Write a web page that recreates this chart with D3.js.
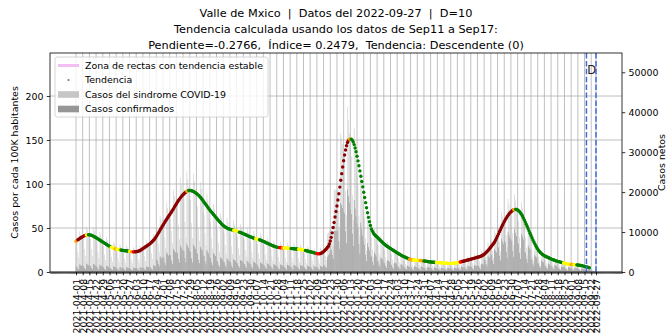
<!DOCTYPE html>
<html>
<head>
<meta charset="utf-8">
<script src="https://cdn.jsdelivr.net/npm/d3@7"></script>
<style>
  body { margin: 0; background: #fff; }
  svg { display: block; font-family: "DejaVu Sans", sans-serif; }
</style>
</head>
<body>
<svg id="chart" width="669" height="334"></svg>
<script>
'use strict';

let titleLines = [
    'Valle de Mxico  |  Datos del 2022-09-27  |  D=10',
    'Tendencia calculada usando los datos de Sep11 a Sep17:',
    'Pendiente=-0.2766,  Índice= 0.2479,  Tendencia: Descendente (0)'
];
let startDate = '2021-04-01';
let cutoffDate = '2022-09-17';
let lastDate = '2022-09-27';
let leftTicks = [0, 50, 100, 150, 200];
let rightTicks = [0, 10000, 20000, 30000, 40000, 50000];
let legendLabels = ['Zona de rectas con tendencia estable', 'Tendencia',
    'Casos del sindrome COVID-19', 'Casos confirmados'];

// casos por cada 100K habitantes, un valor diario desde 2021-04-01
let trendPer100k = [
    35.0, 35.8, 36.6, 37.4, 38.2, 38.9, 39.6, 40.2, 40.8, 41.3, 41.7, 42.0, 42.2, 42.3,
    42.2, 42.0, 41.7, 41.3, 40.8, 40.2, 39.6, 39.0, 38.3, 37.6, 36.9, 36.2,
    35.5, 34.8, 34.1, 33.4, 32.7, 32.0, 31.3, 30.6, 30.0, 29.4, 28.8, 28.2, 27.6, 27.1,
    26.7, 26.3, 26.0, 25.8, 25.6, 25.4, 25.2, 25.0, 24.8, 24.6, 24.4, 24.2, 24.1, 24.0,
    23.8, 23.6, 23.4, 23.2, 23.0, 22.9, 22.9, 22.9, 23.0, 23.1,
    23.3, 23.6, 24.0, 24.5, 25.1, 25.8, 26.6,
    27.4, 28.1, 28.8, 29.5, 30.3, 31.1, 31.9, 32.8, 33.8, 34.9, 36.0,
    37.3, 38.8, 40.4, 42.1, 43.9, 45.8, 47.8,
    49.6, 51.4, 53.2, 55.0, 56.8, 58.6, 60.3, 62.0, 63.6, 65.2,
    66.9, 68.6, 70.3, 72.0, 73.8, 75.6, 77.4, 79.2, 80.9, 82.5, 84.0,
    85.4, 86.7, 87.9, 89.0, 90.0, 90.9, 91.7, 92.3,
    92.6, 92.7, 92.6, 92.3, 91.9, 91.4, 90.8, 90.1, 89.3, 88.4, 87.4, 86.3, 85.1,
    83.8, 82.4, 80.9, 79.4, 77.9, 76.4, 74.9, 73.4, 71.9, 70.5, 69.1, 67.8, 66.5, 65.2,
    63.9, 62.6, 61.3, 60.0, 58.7, 57.4, 56.2, 55.0, 53.9, 52.9, 52.0, 51.2, 50.5, 49.9,
    49.4, 49.0, 48.6, 48.3, 48.0, 47.7, 47.4, 47.1, 46.8, 46.5, 46.1, 45.7, 45.3, 44.9,
    44.5, 44.1, 43.6, 43.1, 42.6, 42.1, 41.6, 41.1, 40.6, 40.1,
    39.7, 39.3, 38.9, 38.5, 38.1, 37.8, 37.5, 37.2, 36.9, 36.6,
    36.2, 35.8, 35.3, 34.8, 34.3, 33.8, 33.3, 32.8, 32.3,
    31.8, 31.3, 30.8, 30.3, 29.8, 29.4, 29.0, 28.6, 28.3,
    28.0, 27.8, 27.7, 27.6, 27.5, 27.4, 27.3, 27.3, 27.2, 27.2, 27.1, 27.0,
    26.9, 26.8, 26.7, 26.6, 26.5, 26.4, 26.3, 26.2, 26.1, 26.0, 25.9, 25.8,
    25.6, 25.4, 25.2, 25.0, 24.8, 24.5, 24.2, 23.9, 23.6, 23.3, 23.0,
    22.7, 22.4, 22.1, 21.8, 21.5, 21.2, 21.0, 20.8, 20.7, 20.8,
    21.1, 21.6, 22.3, 23.2, 24.2, 25.3, 26.5, 27.8, 29.2,
    31.8, 35.2, 39.4, 44.5, 50.5,
    56.3, 62.5, 68.8, 75.0, 81.8, 88.9, 96.5,
    104.2, 111.8, 119.3, 126.5, 133.0, 138.7, 143.5, 147.2, 149.7, 151.0, 151.3,
    151.0, 149.9, 147.8, 144.8, 141.0, 136.6, 131.6, 126.3, 120.7, 114.9, 108.9, 102.9,
    96.8, 90.7, 84.7, 78.8, 73.0, 67.4, 62.1, 57.2, 52.8, 49.0,
    46.6, 44.6, 43.0, 41.7, 40.6, 39.7,
    38.6, 37.5, 36.4, 35.3, 34.3, 33.3, 32.3, 31.3, 30.4, 29.5,
    28.8, 28.1, 27.4, 26.7, 26.0, 25.3, 24.6, 23.9, 23.2, 22.5, 21.8, 21.1,
    20.4, 19.8, 19.2, 18.6, 18.0, 17.5, 17.0, 16.5, 16.0, 15.5, 15.0, 14.5,
    14.2, 14.0, 13.8, 13.7, 13.6, 13.5, 13.4, 13.3, 13.2, 13.1,
    13.0, 12.9, 12.8, 12.7, 12.6, 12.5, 12.3, 12.1, 11.9, 11.7,
    11.5, 11.4, 11.3, 11.2, 11.1, 11.0, 10.9, 10.8, 10.7, 10.6, 10.6, 10.5,
    10.4, 10.3, 10.2, 10.1, 10.0, 10.0, 9.9, 9.9, 9.8, 9.8, 9.8,
    9.8, 9.8, 9.9, 10.0, 10.1, 10.3, 10.5, 10.7, 11.0, 11.3,
    11.6, 11.9, 12.2, 12.5, 12.8, 13.1, 13.4, 13.7, 14.0, 14.3, 14.6,
    14.9, 15.2, 15.5, 15.8, 16.1, 16.4, 16.7, 17.0, 17.3, 17.6,
    18.1, 18.7, 19.4, 20.2, 21.1, 22.1, 23.2, 24.4, 25.7, 27.0, 28.4, 29.8, 31.2, 32.6,
    34.4, 36.4, 38.6, 40.9, 43.3, 45.7, 48.1, 50.5, 52.8, 55.0,
    57.1, 59.1, 61.0, 62.8, 64.4, 65.9, 67.2, 68.3, 69.3, 70.1, 70.7, 71.1,
    71.2, 71.0, 70.5, 69.7, 68.6, 67.2, 65.5, 63.6, 61.5, 59.2, 56.8, 54.3, 51.7, 49.1, 46.5, 43.9,
    41.4, 38.9, 36.5, 34.2, 32.0, 29.9, 27.9, 26.1, 24.5, 23.1, 21.9, 20.9, 20.0, 19.2, 18.5, 17.9, 17.4,
    16.9, 16.4, 15.9, 15.4, 14.9, 14.4, 14.0, 13.6, 13.2, 12.8, 12.4,
    12.1, 11.8, 11.5, 11.2, 10.9, 10.6, 10.3, 10.0, 9.7, 9.4,
    9.2, 9.0, 8.9, 8.8, 8.7, 8.6, 8.5, 8.4, 8.3, 8.2, 8.1, 8.0, 7.8, 7.6, 7.4, 7.2, 7.0,
    6.7, 6.4, 6.1, 5.8, 5.5, 5.2, 4.9
];

// [primer dia, color] de cada tramo de la tendencia
let trendColors = [
    [0, 'orange'], [2, 'darkred'], [10, 'red'], [11, 'yellow'], [13, 'green'],
    [37, 'yellow'], [41, 'orange'], [43, 'yellow'], [47, 'green'],
    [56, 'yellow'], [58, 'orange'], [60, 'red'], [62, 'darkred'],
    [116, 'orange'], [118, 'green'],
    [165, 'yellow'], [171, 'green'], [188, 'yellow'], [192, 'green'],
    [213, 'red'], [216, 'orange'], [218, 'yellow'], [225, 'green'],
    [233, 'yellow'], [240, 'green'],
    [252, 'red'], [256, 'darkred'], [286, 'orange'], [288, 'green'],
    [349, 'orange'], [353, 'yellow'], [360, 'orange'], [364, 'green'],
    [377, 'yellow'], [402, 'red'], [405, 'darkred'],
    [458, 'orange'], [460, 'green'],
    [510, 'yellow'], [518, 'orange'], [521, 'yellow'], [524, 'green']
];

// casos diarios en cientos, desde 2021-04-01 (jueves)
let sindromeHundreds = [
    79, 75, 51, 36, 103, 95, 87,   88, 84, 57, 40, 114, 106, 97,
    87, 83, 57, 39, 113, 104, 96,  77, 73, 50, 35, 100, 92, 85,
    67, 64, 44, 30, 87, 80, 74,    58, 55, 38, 26, 75, 70, 64,
    53, 50, 34, 24, 69, 64, 58,    51, 48, 33, 23, 66, 61, 56,
    48, 46, 31, 22, 62, 58, 53,    50, 48, 33, 23, 65, 60, 55,
    60, 57, 39, 27, 78, 72, 66,    73, 69, 47, 33, 95, 88, 80,
    108, 103, 70, 49, 140, 130, 119,   134, 127, 87, 60, 174, 161, 147,
    159, 151, 103, 72, 207, 191, 175,  182, 173, 118, 82, 237, 218, 200,
    194, 184, 126, 87, 252, 233, 213,  189, 180, 123, 85, 246, 227, 208,
    173, 164, 112, 78, 225, 208, 190,  151, 143, 98, 68, 196, 181, 166,
    131, 124, 85, 59, 170, 157, 144,   113, 107, 73, 51, 147, 136, 124,
    103, 98, 67, 46, 134, 124, 113,    99, 94, 64, 45, 129, 119, 109,
    93, 88, 60, 42, 121, 112, 102,     85, 81, 55, 38, 111, 102, 94,
    79, 75, 51, 36, 103, 95, 87,   74, 70, 48, 33, 96, 89, 81,
    67, 64, 44, 30, 87, 80, 74,    60, 57, 39, 27, 78, 72, 66,
    58, 55, 38, 26, 75, 70, 64,    56, 53, 36, 25, 73, 67, 62,
    55, 52, 36, 25, 72, 66, 61,    53, 50, 34, 24, 69, 64, 58,
    49, 47, 32, 22, 64, 59, 54,    45, 43, 29, 20, 59, 54, 50,
    47, 45, 31, 21, 61, 56, 52,    56, 55, 40, 30, 96, 99, 103,
    106, 112, 85, 65, 205, 206, 206,   203, 208, 153, 113, 346, 335, 320,
    301, 294, 204, 143, 413, 380, 347, 310, 289, 192, 129, 359, 318, 278,
    241, 218, 140, 91, 247, 214, 182,  153, 135, 85, 54, 144, 124, 108,
    94, 86, 57, 38, 108, 97, 87,   70, 67, 46, 32, 91, 84, 77,
    58, 55, 38, 26, 75, 70, 64,    47, 45, 31, 21, 61, 56, 52,
    38, 36, 25, 17, 49, 46, 42,    30, 29, 20, 14, 39, 36, 33,
    28, 27, 18, 13, 36, 34, 31,    27, 26, 18, 12, 35, 32, 30,
    25, 24, 16, 11, 33, 30, 28,    23, 22, 15, 10, 30, 28, 25,
    21, 20, 14, 9, 27, 25, 23,     21, 20, 14, 9, 27, 25, 23,
    22, 20, 14, 10, 28, 26, 23,    26, 25, 17, 12, 34, 31, 29,
    30, 29, 20, 14, 39, 36, 33,    34, 32, 22, 15, 44, 41, 37,
    41, 39, 27, 18, 53, 49, 45,    57, 54, 37, 26, 74, 68, 63,
    81, 77, 53, 36, 105, 97, 89,   116, 110, 75, 52, 151, 139, 128,
    141, 134, 92, 63, 183, 169, 155,   149, 142, 97, 67, 194, 179, 164,
    134, 127, 87, 60, 174, 161, 147,   92, 87, 60, 41, 120, 110, 101,
    59, 56, 38, 27, 77, 71, 65,    40, 38, 26, 18, 52, 48, 44,
    32, 30, 21, 14, 42, 38, 35,    27, 26, 18, 12, 35, 32, 30,
    22, 21, 14, 10, 29, 26, 24,    18, 17, 12, 8, 23, 22, 20,
    17, 16, 11, 8, 22, 20, 19,     14, 13, 9, 6, 18, 17, 15,
    11, 10, 7, 5, 13, 11, 9,       8, 6, 3, 2, 4, 1
];

let confirmedHundreds = [
    14, 13, 9, 6, 19, 17, 16,      16, 15, 10, 7, 21, 19, 17,
    16, 15, 10, 7, 20, 19, 17,     14, 13, 9, 6, 18, 17, 15,
    12, 12, 8, 5, 16, 14, 13,      10, 10, 7, 5, 14, 13, 12,
    10, 9, 6, 4, 12, 12, 10,       9, 9, 6, 4, 12, 11, 10,
    9, 8, 6, 4, 11, 10, 10,        9, 9, 6, 4, 12, 11, 10,
    11, 10, 7, 5, 14, 13, 12,      13, 12, 8, 6, 17, 16, 14,
    30, 29, 20, 14, 39, 36, 33,    38, 36, 24, 17, 49, 45, 41,
    45, 42, 29, 20, 58, 53, 49,    51, 48, 33, 23, 66, 61, 56,
    54, 52, 35, 24, 71, 65, 60,    53, 50, 34, 24, 69, 64, 58,
    48, 46, 31, 22, 63, 58, 53,    42, 40, 27, 19, 55, 51, 46,
    37, 35, 24, 17, 48, 44, 40,    28, 27, 18, 13, 37, 34, 31,
    26, 25, 17, 12, 34, 31, 28,    25, 24, 16, 11, 32, 30, 27,
    23, 22, 15, 11, 30, 28, 26,    21, 20, 14, 10, 28, 26, 23,
    20, 19, 13, 9, 26, 24, 22,     19, 18, 12, 8, 24, 22, 20,
    17, 16, 11, 8, 22, 20, 18,     15, 14, 10, 7, 20, 18, 17,
    15, 14, 9, 7, 19, 17, 16,      14, 13, 9, 6, 18, 17, 15,
    14, 13, 9, 6, 18, 17, 15,      13, 13, 9, 6, 17, 16, 15,
    12, 12, 8, 6, 16, 15, 13,      11, 11, 7, 5, 15, 14, 12,
    12, 11, 8, 5, 15, 14, 13,      17, 17, 13, 11, 38, 42, 46,
    53, 56, 43, 33, 103, 103, 103,     102, 104, 77, 57, 173, 168, 160,
    151, 147, 102, 72, 207, 190, 174,  155, 145, 96, 65, 180, 159, 139,
    121, 109, 70, 46, 124, 107, 91,    77, 68, 43, 27, 72, 62, 54,
    42, 39, 26, 17, 49, 44, 39,    28, 27, 18, 13, 36, 34, 31,
    23, 22, 15, 10, 30, 28, 26,    19, 18, 12, 8, 24, 22, 21,
    15, 14, 10, 7, 20, 18, 17,     12, 12, 8, 6, 16, 14, 13,
    11, 11, 7, 5, 14, 14, 12,      11, 10, 7, 5, 14, 13, 12,
    10, 10, 6, 4, 13, 12, 11,      9, 9, 6, 4, 12, 11, 10,
    8, 8, 6, 4, 11, 10, 9,         8, 8, 6, 4, 11, 10, 9,
    9, 8, 6, 4, 11, 10, 9,         10, 10, 7, 5, 14, 12, 12,
    12, 12, 8, 6, 16, 14, 13,      14, 13, 9, 6, 18, 16, 15,
    16, 16, 11, 7, 21, 20, 18,     31, 30, 20, 14, 41, 37, 35,
    45, 42, 29, 20, 58, 53, 49,    64, 61, 41, 29, 83, 76, 70,
    78, 74, 51, 35, 101, 93, 85,   82, 78, 53, 37, 107, 98, 90,
    74, 70, 48, 33, 96, 89, 81,    51, 48, 33, 23, 66, 61, 56,
    32, 31, 21, 15, 42, 39, 36,    22, 21, 14, 10, 29, 26, 24,
    16, 15, 10, 7, 21, 19, 18,     14, 13, 9, 6, 18, 16, 15,
    11, 10, 7, 5, 14, 13, 12,      9, 9, 6, 4, 12, 11, 10,
    9, 8, 6, 4, 11, 10, 9,         7, 7, 5, 3, 9, 8, 8,
    6, 5, 4, 3, 7, 6, 5,           4, 3, 2, 1, 2, 1
];

let svg = d3.select('#chart');
let margin = {left: 50, right: 622, top: 53, bottom: 272};
let fontSize = 9.44;
let parse = d3.utcParse('%Y-%m-%d');
let fmt = d3.utcFormat('%Y-%m-%d');
let t0 = parse(startDate);
let tEnd = parse(lastDate);
let padMs = 27.2 * 864e5;
let dayOf = function(i) {
    return d3.utcDay.offset(t0, i);
};

let x = d3.scaleUtc()
    .domain([new Date(+t0 - padMs), new Date(+tEnd + padMs)])
    .range([margin.left, margin.right]);
let yL = d3.scaleLinear().domain([0, 248.9]).range([margin.bottom, margin.top]);
let yR = d3.scaleLinear().domain([0, 54830]).range([margin.bottom, margin.top]);

let majorTicks = d3.utcDay.range(t0, d3.utcDay.offset(tEnd, 1), 7);
majorTicks.push(tEnd);
let minorTicks = d3.utcDay.range(x.domain()[0], x.domain()[1]);

// barras diarias
let barW = 0.5;
svg.append('g').selectAll('rect')
    .data(sindromeHundreds)
    .enter().append('rect')
    .attr('x', function(d, i) { return x(dayOf(i)) - barW / 2; })
    .attr('y', function(d) { return yR(d * 100); })
    .attr('width', barW)
    .attr('height', function(d) { return yR(0) - yR(d * 100); })
    .style('fill', '#c4c4c4');

svg.append('g').selectAll('rect')
    .data(confirmedHundreds)
    .enter().append('rect')
    .attr('x', function(d, i) { return x(dayOf(i)) - barW / 2; })
    .attr('y', function(d) { return yR(d * 100); })
    .attr('width', barW)
    .attr('height', function(d) { return yR(0) - yR(d * 100); })
    .style('fill', '#808080');

// rejilla
let grid = svg.append('g').style('stroke', '#b0b0b0').style('stroke-width', 0.8);
grid.selectAll('.vg')
    .data(majorTicks)
    .enter().append('line')
    .attr('x1', function(d) { return x(d); })
    .attr('x2', function(d) { return x(d); })
    .attr('y1', margin.top)
    .attr('y2', margin.bottom);
grid.selectAll('.hg')
    .data(leftTicks)
    .enter().append('line')
    .attr('x1', margin.left)
    .attr('x2', margin.right)
    .attr('y1', function(d) { return yL(d); })
    .attr('y2', function(d) { return yL(d); });

// tendencia
let colorFor = function(i) {
    let c = trendColors[0][1];
    trendColors.forEach(function(s) {
        if (s[0] <= i) c = s[1];
    });
    return c;
};
let n = trendPer100k.length;
svg.append('path')
    .datum(trendPer100k.slice(n - 6))
    .attr('d', d3.line()
        .x(function(d, i) { return x(dayOf(n - 6 + i)); })
        .y(function(d) { return yL(d); }))
    .style('fill', 'none')
    .style('stroke', '#f3bff3')
    .style('stroke-width', 3);
svg.append('g').selectAll('circle')
    .data(trendPer100k)
    .enter().append('circle')
    .attr('cx', function(d, i) { return x(dayOf(i)); })
    .attr('cy', function(d) { return yL(d); })
    .attr('r', 1.7)
    .style('fill', function(d, i) { return colorFor(i); });

// lineas de corte
svg.append('g').selectAll('line')
    .data([parse(cutoffDate), tEnd])
    .enter().append('line')
    .attr('x1', function(d) { return x(d); })
    .attr('x2', function(d) { return x(d); })
    .attr('y1', margin.top)
    .attr('y2', margin.bottom)
    .style('stroke', '#4169e1')
    .style('stroke-width', 1.5)
    .style('stroke-dasharray', '5.5,2.4');
svg.append('text')
    .attr('x', (x(parse(cutoffDate)) + x(tEnd)) / 2 + 0.5)
    .attr('y', 74)
    .attr('text-anchor', 'middle')
    .style('font-size', '11.5px')
    .style('fill', '#222')
    .text('D');

// ejes
let styleAxis = function(g) {
    g.select('.domain').remove();
    g.selectAll('line').style('stroke', '#000').style('stroke-width', 0.8);
    g.selectAll('text').style('font-size', fontSize + 'px').style('fill', '#000')
        .style('font-family', '"DejaVu Sans", sans-serif');
};

svg.append('g')
    .attr('transform', 'translate(0,' + margin.bottom + ')')
    .call(d3.axisBottom(x).tickValues(minorTicks).tickSize(2).tickFormat(''))
    .call(styleAxis)
    .selectAll('line').style('stroke-width', 0.5);

svg.append('g')
    .attr('transform', 'translate(0,' + margin.bottom + ')')
    .call(d3.axisBottom(x).tickValues(majorTicks).tickSize(3.3).tickFormat(fmt))
    .call(styleAxis)
    .selectAll('text')
    .attr('transform', 'rotate(-90)')
    .attr('x', -6.8)
    .attr('y', 0)
    .attr('dy', '0.35em')
    .attr('text-anchor', 'end');

svg.append('g')
    .attr('transform', 'translate(' + margin.left + ',0)')
    .call(d3.axisLeft(yL).tickValues(leftTicks).tickSize(3.3).tickPadding(3.3))
    .call(styleAxis);

svg.append('g')
    .attr('transform', 'translate(' + margin.right + ',0)')
    .call(d3.axisRight(yR).tickValues(rightTicks).tickSize(3.3).tickPadding(3.3)
        .tickFormat(d3.format('d')))
    .call(styleAxis);

svg.append('rect')
    .attr('x', margin.left)
    .attr('y', margin.top)
    .attr('width', margin.right - margin.left)
    .attr('height', margin.bottom - margin.top)
    .style('fill', 'none')
    .style('stroke', '#000')
    .style('stroke-width', 0.8);

svg.append('text')
    .attr('transform', 'translate(15,' + (margin.top + margin.bottom) / 2 + ') rotate(-90)')
    .attr('text-anchor', 'middle')
    .attr('dy', '0.35em')
    .style('font-size', fontSize + 'px')
    .text('Casos por cada 100K habitantes');

svg.append('text')
    .attr('transform', 'translate(662,' + (margin.top + margin.bottom) / 2 + ') rotate(-90)')
    .attr('text-anchor', 'middle')
    .attr('dy', '0.35em')
    .style('font-size', fontSize + 'px')
    .text('Casos netos');

// titulo
svg.append('g').selectAll('text')
    .data(titleLines)
    .enter().append('text')
    .attr('x', 336)
    .attr('y', function(d, i) { return 17 + i * 16; })
    .attr('text-anchor', 'middle')
    .style('font-size', '11.3px')
    .style('white-space', 'pre')
    .style('fill', '#000')
    .text(function(d) { return d; });

// leyenda
let lg = svg.append('g');
lg.append('rect')
    .attr('x', 55).attr('y', 57)
    .attr('width', 213).attr('height', 60)
    .attr('rx', 2.5)
    .style('fill', '#fff').style('fill-opacity', 0.8)
    .style('stroke', '#cccccc').style('stroke-width', 0.8);
let rowY = function(i) { return 65.5 + i * 14.5; };
lg.append('line')
    .attr('x1', 58).attr('x2', 79)
    .attr('y1', rowY(0)).attr('y2', rowY(0))
    .style('stroke', '#f3bff3').style('stroke-width', 3);
lg.append('circle')
    .attr('cx', 68.5).attr('cy', rowY(1)).attr('r', 1.1)
    .style('fill', '#777');
lg.append('rect')
    .attr('x', 58).attr('y', rowY(2) - 3.3).attr('width', 21).attr('height', 6.6)
    .style('fill', '#c6c6c6');
lg.append('rect')
    .attr('x', 58).attr('y', rowY(3) - 3.3).attr('width', 21).attr('height', 6.6)
    .style('fill', '#969696');
lg.selectAll('.lt')
    .data(legendLabels)
    .enter().append('text')
    .attr('x', 85)
    .attr('y', function(d, i) { return rowY(i); })
    .attr('dy', '0.35em')
    .style('font-size', fontSize + 'px')
    .text(function(d) { return d; });
</script>
</body>
</html>
